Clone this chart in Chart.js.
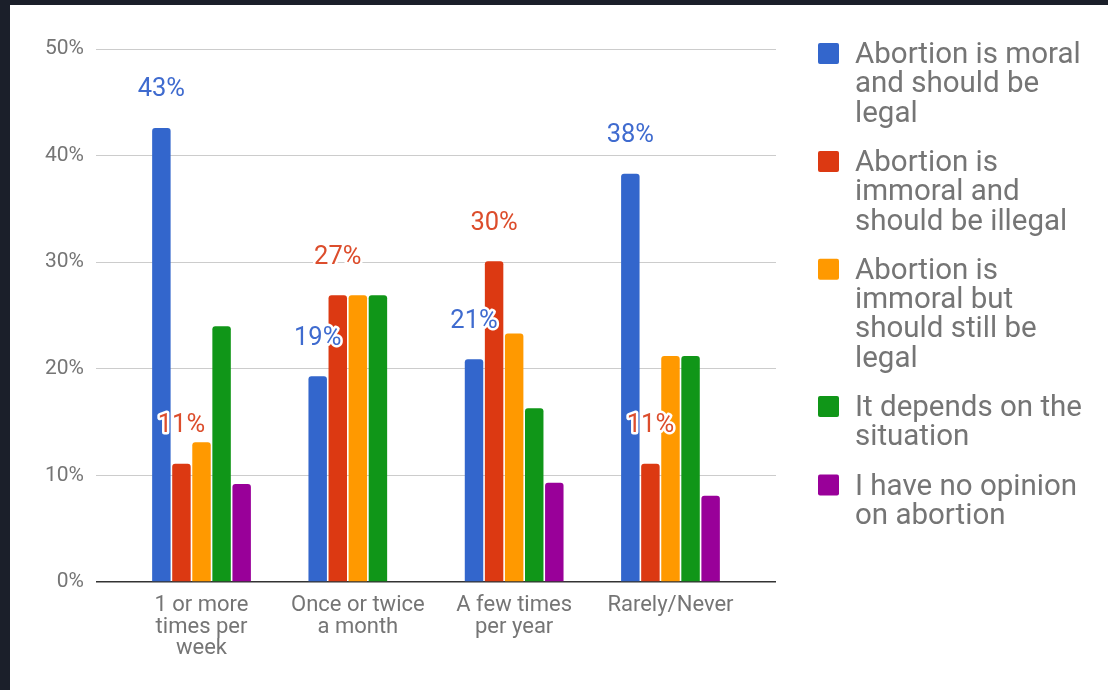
<!DOCTYPE html>
<html>
<head>
<meta charset="utf-8">
<script src="https://cdn.jsdelivr.net/npm/chart.js@4.4.0/dist/chart.umd.min.js"></script>
<style>
  html, body { margin: 0; padding: 0; background: #1b1f2a; }
  .frame { position: absolute; left: 10px; top: 5px; width: 1098px; height: 685px; background: #fff; }
  canvas { display: block; }
</style>
</head>
<body>
<div class="frame"><canvas id="chart" width="1098" height="685"></canvas></div>
<script>
// Categories (x axis), one entry per group, split into lines
const categories = [
    ['1 or more', 'times per', 'week'],
    ['Once or twice', 'a month'],
    ['A few times', 'per year'],
    ['Rarely/Never']
];

// Series names, pre-wrapped like the legend
const seriesNames = [
    ['Abortion is moral', 'and should be', 'legal'],
    ['Abortion is', 'immoral and', 'should be illegal'],
    ['Abortion is', 'immoral but', 'should still be', 'legal'],
    ['It depends on the', 'situation'],
    ['I have no opinion', 'on abortion']
];
const seriesColors = ['#3366cc', '#dc3912', '#ff9900', '#109618', '#990099'];

// Values in percent
const moralLegal = [42.6, 19.3, 20.9, 38.3];
const immoralIllegal = [11.1, 26.9, 30.1, 11.1];
const immoralButLegal = [13.1, 26.9, 23.3, 21.2];
const dependsOnSituation = [24.0, 26.9, 16.3, 21.2];
const noOpinion = [9.2, 0, 9.3, 8.1];

// Only the first two series carry value labels
const labelledSeries = [0, 1];
const labelColors = ['#3f6bcf', '#dc4d2c'];

const yTicks = [0, 10, 20, 30, 40, 50];

const allSeries = [moralLegal, immoralIllegal, immoralButLegal, dependsOnSituation, noOpinion];

const FONT = 'Roboto';
const GREY = '#757575';

// Value labels above the bars, with a white halo
const valueLabels = {
    id: 'valueLabels',
    afterDatasetsDraw(chart) {
        const ctx = chart.ctx;
        ctx.save();
        ctx.font = '25.5px ' + FONT;
        ctx.textAlign = 'center';
        ctx.textBaseline = 'middle';
        ctx.lineJoin = 'round';
        labelledSeries.forEach(di => {
            const meta = chart.getDatasetMeta(di);
            meta.data.forEach((bar, i) => {
                const txt = Math.round(allSeries[di][i]) + '%';
                ctx.strokeStyle = '#fff';
                ctx.lineWidth = 5;
                ctx.strokeText(txt, bar.x, bar.y - 38);
                ctx.fillStyle = labelColors[di];
                ctx.fillText(txt, bar.x, bar.y - 38);
            });
        });
        ctx.restore();
    }
};

// Right-hand legend with wrapped lines
const sideLegend = {
    id: 'sideLegend',
    afterDraw(chart) {
        const ctx = chart.ctx;
        const x = chart.chartArea.right + 42;
        const lineH = 29.3;
        let y = 38;
        ctx.save();
        ctx.font = '29.5px ' + FONT;
        ctx.textBaseline = 'alphabetic';
        ctx.textAlign = 'left';
        seriesNames.forEach((lines, i) => {
            ctx.fillStyle = seriesColors[i];
            ctx.beginPath();
            ctx.roundRect(x, y, 21, 21, 2);
            ctx.fill();
            ctx.fillStyle = GREY;
            lines.forEach((ln, k) => {
                ctx.fillText(ln, x + 37, y + 20 + k * lineH);
            });
            y += lines.length * lineH + 20;
        });
        ctx.restore();
    }
};

new Chart(document.getElementById('chart'), {
    type: 'bar',
    data: {
        datasets: allSeries.map((vals, i) => ({
            label: seriesNames[i].join(' '),
            data: vals.map((v, k) => ({ x: k, y: v })),
            backgroundColor: seriesColors[i],
            borderRadius: { topLeft: 3, topRight: 3 },
            borderSkipped: 'start',
            categoryPercentage: 0.642,
            barPercentage: 0.92
        }))
    },
    options: {
        responsive: false,
        animation: false,
        devicePixelRatio: 1,
        layout: { padding: { top: 44, right: 332, bottom: 0, left: 0 } },
        plugins: {
            legend: { display: false },
            tooltip: { enabled: false }
        },
        scales: {
            x: {
                type: 'linear',
                offset: false,
                min: -0.675,
                max: 3.675,
                afterBuildTicks: s => { s.ticks = categories.map((_, i) => ({ value: i })); },
                afterFit: s => { s.height = 108; },
                grid: { display: false, drawTicks: false },
                border: { display: false },
                ticks: {
                    callback: v => categories[v] || '',
                    color: GREY,
                    font: { family: FONT, size: 22, lineHeight: 0.98 },
                    padding: 13,
                    maxRotation: 0,
                    autoSkip: false
                }
            },
            y: {
                min: 0,
                max: 50,
                afterBuildTicks: s => { s.ticks = yTicks.map(v => ({ value: v })); },
                afterFit: s => { s.width = 86; },
                grid: {
                    color: c => c.tick && c.tick.value === 0 ? '#333333' : '#cccccc',
                    lineWidth: c => c.tick && c.tick.value === 0 ? 1.5 : 1,
                    drawTicks: false
                },
                border: { display: false },
                ticks: {
                    callback: v => v + '%',
                    color: GREY,
                    font: { family: FONT, size: 21 },
                    padding: 12
                }
            }
        }
    },
    plugins: [valueLabels, sideLegend]
});
</script>
</body>
</html>
